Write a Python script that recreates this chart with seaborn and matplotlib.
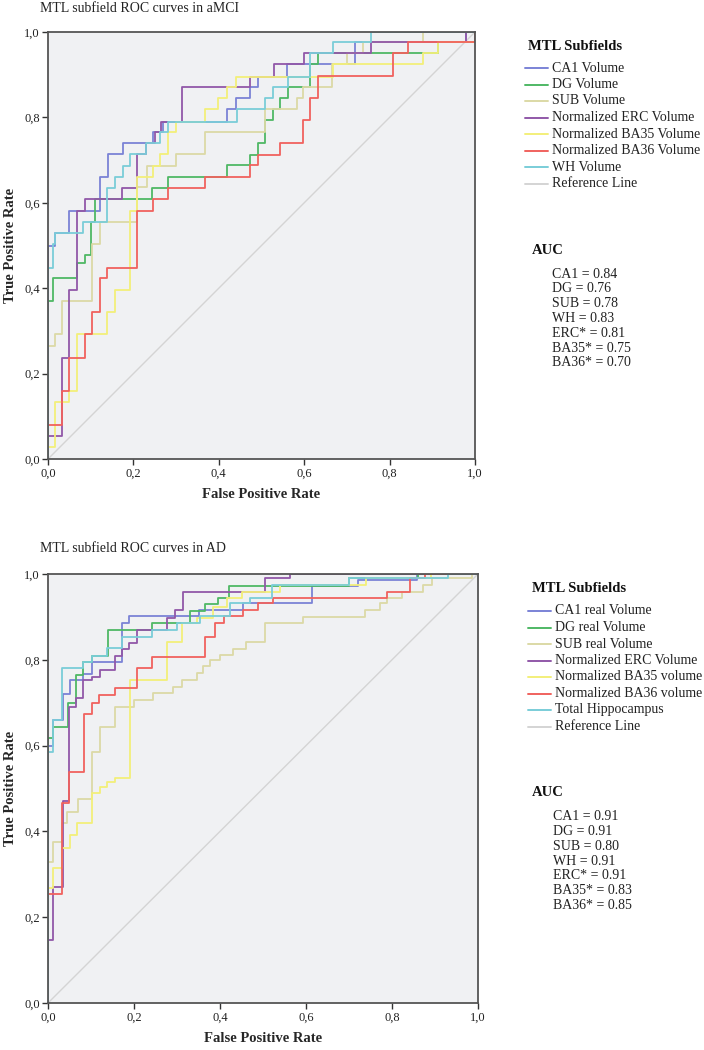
import numpy as np
import pandas as pd
import matplotlib
matplotlib.use("Agg")
import matplotlib.pyplot as plt
from matplotlib.lines import Line2D
from matplotlib.ticker import FuncFormatter
import seaborn as sns

# ---------------- data: aMCI panel (FPR breakpoints, TPR levels) ----------------
amci_ca1_fpr = [0, .016, .05, .122, .14, .176, .246, .27, .42, .44, .473, .492, .56, .72, .98]
amci_ca1_tpr = [.50, .53, .58, .66, .714, .74, .766, .79, .82, .845, .871, .895, .925, .977, 1.0]
amci_dg_fpr = [0, .012, .068, .087, .10, .11, .244, .281, .42, .473, .492, .508, .527, .543, .562, .614, .632, .913, 1.0]
amci_dg_tpr = [.37, .424, .459, .478, .555, .609, .635, .66, .689, .712, .74, .794, .82, .845, .871, .925, .95, .977, 1.0]
amci_sub_fpr = [0, .016, .033, .103, .122, .208, .232, .30, .368, .508, .583, .597, .665, .70, .738, .878]
amci_sub_tpr = [.265, .293, .37, .503, .555, .637, .686, .714, .766, .82, .845, .871, .925, .95, .977, 1.0]
amci_erc_fpr = [0, .033, .05, .068, .087, .173, .208, .23, .25, .265, .313, .473, .53, .60, .756, .98]
amci_erc_tpr = [.054, .237, .395, .58, .609, .635, .714, .74, .766, .79, .871, .895, .925, .95, .977, 1.0]
amci_ba35_fpr = [0, .016, .05, .068, .138, .157, .192, .208, .246, .262, .281, .30, .367, .398, .42, .44, .667, .878, .913]
amci_ba35_tpr = [.028, .133, .16, .293, .344, .395, .58, .66, .686, .714, .766, .79, .82, .845, .871, .895, .925, .95, .977]
amci_ba36_fpr = [0, .033, .05, .087, .103, .122, .138, .208, .246, .281, .368, .473, .492, .543, .597, .614, .632, .808, .843]
amci_ba36_tpr = [.08, .16, .237, .293, .344, .424, .447, .58, .609, .635, .66, .689, .712, .74, .794, .845, .897, .95, .977]
amci_wh_fpr = [0, .012, .016, .082, .138, .157, .176, .192, .23, .262, .281, .443, .508, .527, .562, .614, .667, .756]
amci_wh_tpr = [.447, .503, .53, .555, .635, .66, .686, .714, .74, .766, .79, .82, .845, .871, .895, .95, .977, 1.0]

# ---------------- data: AD panel ----------------
ad_ca1_fpr = [0, .012, .035, .051, .081, .102, .172, .188, .35, .453, .614, .72, .858]
ad_ca1_tpr = [.60, .66, .72, .753, .767, .795, .886, .902, .916, .932, .972, .986, 1.0]
ad_dg_fpr = [0, .012, .047, .065, .081, .102, .14, .242, .33, .365, .395, .42, .70, .86]
ad_dg_tpr = [.618, .643, .70, .765, .795, .809, .87, .886, .913, .93, .944, .972, .99, 1.0]
ad_sub_fpr = [0, .012, .033, .044, .07, .102, .12, .156, .20, .244, .291, .312, .347, .36, .377, .40, .43, .46, .505, .593, .737, .772, .788, .823, .872, .893, .986]
ad_sub_tpr = [.329, .375, .42, .445, .475, .585, .643, .69, .706, .722, .737, .753, .77, .786, .80, .811, .825, .841, .886, .90, .916, .932, .944, .958, .974, .99, 1.0]
ad_erc_fpr = [0, .012, .035, .049, .065, .081, .102, .12, .156, .172, .188, .207, .277, .295, .314, .505, .563]
ad_erc_tpr = [.147, .27, .47, .69, .71, .753, .76, .776, .809, .826, .84, .87, .898, .916, .958, .99, 1.0]
ad_ba35_fpr = [0, .012, .033, .051, .067, .102, .12, .138, .156, .191, .277, .312, .347, .384, .416, .45, .54, .74, .89]
ad_ba35_tpr = [.268, .315, .361, .392, .42, .49, .503, .515, .524, .753, .841, .886, .897, .923, .944, .958, .974, .99, 1.0]
ad_ba36_fpr = [0, .033, .049, .084, .102, .119, .156, .207, .242, .365, .388, .41, .453, .488, .523, .788, .842, .877]
ad_ba36_tpr = [.254, .466, .538, .673, .70, .717, .734, .781, .807, .853, .886, .902, .916, .932, .944, .958, .99, 1.0]
ad_wh_fpr = [0, .012, .033, .081, .102, .137, .172, .242, .30, .353, .423, .47, .52, .70, .93]
ad_wh_tpr = [.585, .66, .781, .795, .809, .828, .853, .869, .886, .902, .932, .944, .974, .99, 1.0]

amci_labels = ["CA1 Volume", "DG Volume", "SUB Volume", "Normalized ERC Volume",
               "Normalized BA35 Volume", "Normalized BA36 Volume", "WH Volume", "Reference Line"]
ad_labels = ["CA1 real Volume", "DG real Volume", "SUB real Volume", "Normalized ERC Volume",
             "Normalized BA35 volume", "Normalized BA36 volume", "Total Hippocampus", "Reference Line"]
amci_auc = ["CA1 = 0.84", "DG = 0.76", "SUB = 0.78", "WH = 0.83", "ERC* = 0.81", "BA35* = 0.75", "BA36* = 0.70"]
ad_auc = ["CA1 = 0.91", "DG = 0.91", "SUB = 0.80", "WH = 0.91", "ERC* = 0.91", "BA35* = 0.83", "BA36* = 0.85"]
tick_values = [0.0, 0.2, 0.4, 0.6, 0.8, 1.0]

colors = ["#7b83d6", "#4fb865", "#dcd9a6", "#9158a8", "#f3ef7a", "#f0625e", "#7acdd8", "#d4d4d4"]

amci_curves = [(amci_ca1_fpr, amci_ca1_tpr), (amci_dg_fpr, amci_dg_tpr), (amci_sub_fpr, amci_sub_tpr),
               (amci_erc_fpr, amci_erc_tpr), (amci_ba35_fpr, amci_ba35_tpr), (amci_ba36_fpr, amci_ba36_tpr),
               (amci_wh_fpr, amci_wh_tpr)]
ad_curves = [(ad_ca1_fpr, ad_ca1_tpr), (ad_dg_fpr, ad_dg_tpr), (ad_sub_fpr, ad_sub_tpr),
             (ad_erc_fpr, ad_erc_tpr), (ad_ba35_fpr, ad_ba35_tpr), (ad_ba36_fpr, ad_ba36_tpr),
             (ad_wh_fpr, ad_wh_tpr)]

sns.set_theme(style="white")
plt.rcParams["font.family"] = ["Liberation Serif", "DejaVu Serif"]

W, H = 704, 1050
fig = plt.figure(figsize=(W / 100, H / 100), dpi=100)


def fx(px):
    return px / W


def fy(py):
    return 1 - py / H


def build_frame(curves, labels):
    rows = []
    for (xs, ys), lab in zip(curves, labels):
        pts = [(0.0, 0.0)] + list(zip(xs, ys)) + [(1.0, 1.0)]
        for i, (x, y) in enumerate(pts):
            rows.append({"fpr": x, "tpr": y, "curve": lab, "order": i})
    return pd.DataFrame(rows)


def panel(rect, curves, labels, title, title_y, leg_title_xy, leg_x, leg_y0,
          auc_title_xy, auc_vals, auc_x, auc_y0, auc_dy):
    ax = fig.add_axes(rect)
    ax.set_facecolor("#f0f1f3")
    ref = pd.DataFrame({"fpr": [0.0, 1.0], "tpr": [0.0, 1.0]})
    sns.lineplot(data=ref, x="fpr", y="tpr", color=colors[7], lw=1.0, ax=ax, legend=False)
    df = build_frame(curves, labels[:7])
    pal = dict(zip(labels[:7], colors[:7]))
    sns.lineplot(data=df, x="fpr", y="tpr", hue="curve", palette=pal, sort=False,
                 estimator=None, drawstyle="steps-post", lw=1.3, ax=ax, legend=False)
    ax.set_xlim(0, 1)
    ax.set_ylim(0, 1)
    ax.set_xticks(tick_values)
    ax.set_yticks(tick_values)
    fmt = FuncFormatter(lambda v, p: f"{v:.1f}".replace(".", ","))
    ax.xaxis.set_major_formatter(fmt)
    ax.yaxis.set_major_formatter(fmt)
    ax.tick_params(direction="out", length=4, width=1.0, color="#333333", labelsize=9,
                   labelcolor="#222222", pad=2, bottom=True, left=True)
    for s in ax.spines.values():
        s.set_color("#555555")
        s.set_linewidth(1.3)
    ax.set_xlabel("False Positive Rate", fontsize=10.5, fontweight="bold", labelpad=6)
    ax.set_ylabel("True Positive Rate", fontsize=10.5, fontweight="bold", labelpad=5)
    fig.text(fx(40), fy(title_y), title, fontsize=10, va="center", ha="left", color="#222222")

    # legend block
    fig.text(fx(leg_title_xy[0]), fy(leg_title_xy[1]), "MTL Subfields", fontsize=10.5,
             fontweight="bold", va="center", ha="left", color="#111111")
    for i, (lab, c) in enumerate(zip(labels, colors)):
        yy = leg_y0 + i * 16.5
        fig.add_artist(Line2D([fx(leg_x), fx(leg_x + 23)], [fy(yy), fy(yy)], color=c, lw=1.4,
                              transform=fig.transFigure))
        fig.text(fx(leg_x + 27), fy(yy), lab, fontsize=10, va="center", ha="left", color="#222222")
    fig.text(fx(auc_title_xy[0]), fy(auc_title_xy[1]), "AUC", fontsize=10.5, fontweight="bold",
             va="center", ha="left", color="#111111")
    for i, t in enumerate(auc_vals):
        fig.text(fx(auc_x), fy(auc_y0 + i * auc_dy), t, fontsize=10, va="center", color="#222222")
    return ax


panel([fx(48), fy(459), 427 / W, 427 / H], amci_curves, amci_labels,
      "MTL subfield ROC curves in aMCI", 9, (528, 47), 525, 68,
      (532, 251), amci_auc, 552, 274, 14.8)
panel([fx(48), fy(1003), 430 / W, 429 / H], ad_curves, ad_labels,
      "MTL subfield ROC curves in AD", 548, (532, 588), 528, 611,
      (532, 792), ad_auc, 553, 817, 14.7)

fig.savefig("out.png", dpi=100)
